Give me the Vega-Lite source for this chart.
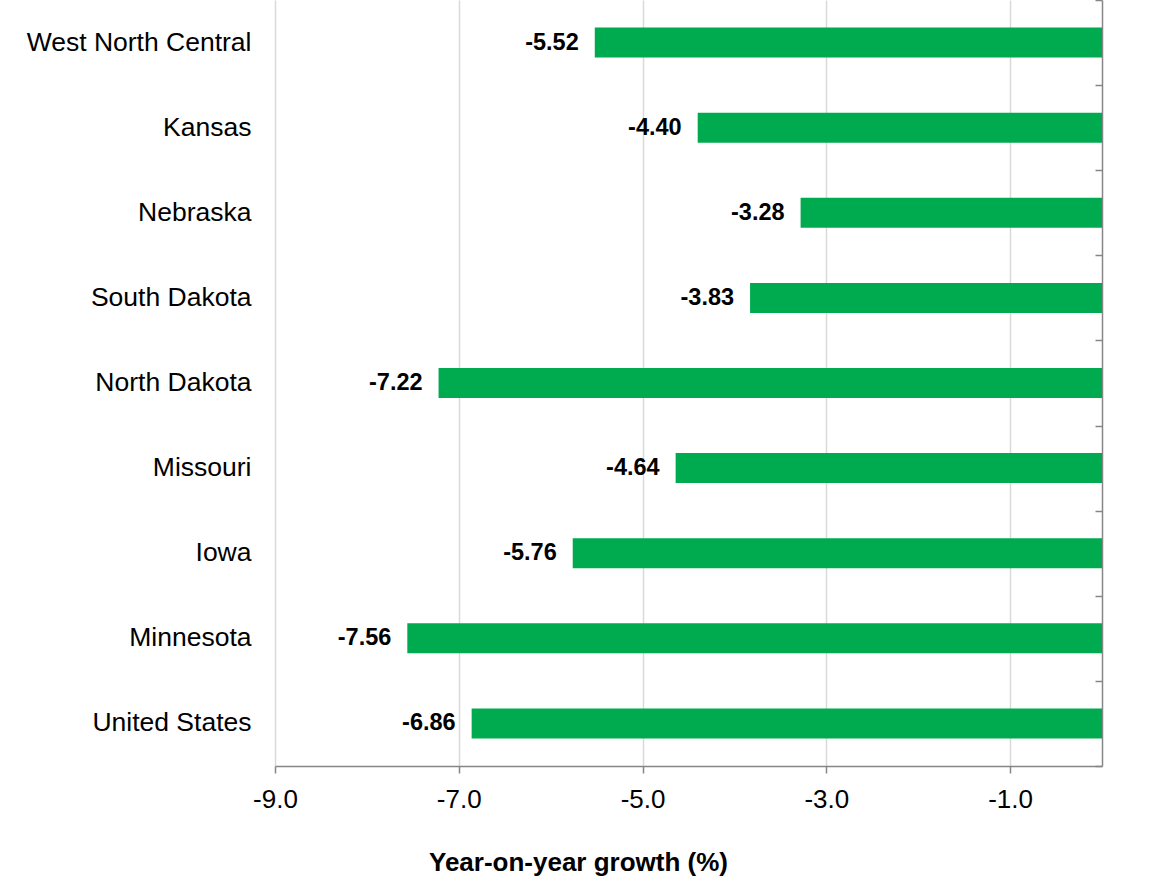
{
  "$schema": "https://vega.github.io/schema/vega-lite/v6.json",
  "width": 827,
  "height": 766,
  "autosize": {"type": "none"},
  "padding": {"left": 275, "top": 0, "right": 56, "bottom": 110},
  "background": "white",
  "config": {
    "view": {"stroke": null},
    "font": "Liberation Sans",
    "locale": {
      "number": {
        "decimal": ".",
        "thousands": ",",
        "grouping": [3],
        "currency": ["$", ""],
        "minus": "-"
      }
    }
  },
  "data": {
    "values": [
      {"region": "West North Central", "growth": -5.52},
      {"region": "Kansas", "growth": -4.40},
      {"region": "Nebraska", "growth": -3.28},
      {"region": "South Dakota", "growth": -3.83},
      {"region": "North Dakota", "growth": -7.22},
      {"region": "Missouri", "growth": -4.64},
      {"region": "Iowa", "growth": -5.76},
      {"region": "Minnesota", "growth": -7.56},
      {"region": "United States", "growth": -6.86}
    ]
  },
  "layer": [
    {
      "mark": {"type": "bar", "size": 30, "color": "#00AA4F"},
      "encoding": {
        "y": {
          "field": "region",
          "type": "nominal",
          "sort": null,
          "scale": {"paddingInner": 0, "paddingOuter": 0},
          "axis": {
            "title": null,
            "domain": false,
            "ticks": false,
            "labelPadding": 24,
            "labelFontSize": 26.5,
            "labelLimit": 0,
            "labelColor": "#000000"
          }
        },
        "x": {
          "field": "growth",
          "type": "quantitative",
          "scale": {"domain": [-9, 0], "nice": false, "zero": false},
          "axis": {
            "values": [-9, -7, -5, -3, -1],
            "format": ".1f",
            "grid": true,
            "gridColor": "#d9d9d9",
            "gridWidth": 1.5,
            "domainColor": "#868686",
            "domainWidth": 1.5,
            "tickColor": "#868686",
            "tickWidth": 1.5,
            "tickSize": 7,
            "labelFlush": false,
            "labelFontSize": 26,
            "labelColor": "#000000",
            "labelPadding": 13,
            "title": "Year-on-year growth (%)",
            "titleFontSize": 26,
            "titleFontWeight": "bold",
            "titleColor": "#000000",
            "titleX": 303,
            "titleY": 104,
            "titleBaseline": "alphabetic",
            "titleAnchor": "middle"
          }
        },
        "x2": {"datum": 0}
      }
    },
    {
      "mark": {
        "type": "text",
        "align": "right",
        "baseline": "middle",
        "dx": -16,
        "fontSize": 23.5,
        "fontWeight": "bold",
        "color": "#000000"
      },
      "encoding": {
        "y": {"field": "region", "type": "nominal", "sort": null, "axis": null},
        "x": {"field": "growth", "type": "quantitative"},
        "text": {"field": "growth", "type": "quantitative", "format": ".2f"}
      }
    },
    {
      "mark": {"type": "rule", "opacity": 0},
      "encoding": {
        "y": {
          "field": "region",
          "type": "nominal",
          "sort": null,
          "axis": {
            "orient": "right",
            "title": null,
            "labels": false,
            "grid": false,
            "domain": true,
            "domainColor": "#868686",
            "domainWidth": 1.5,
            "ticks": true,
            "tickBand": "extent",
            "tickSize": -7,
            "tickColor": "#868686",
            "tickWidth": 1.5
          }
        }
      }
    }
  ],
  "resolve": {"axis": {"y": "independent"}}
}
